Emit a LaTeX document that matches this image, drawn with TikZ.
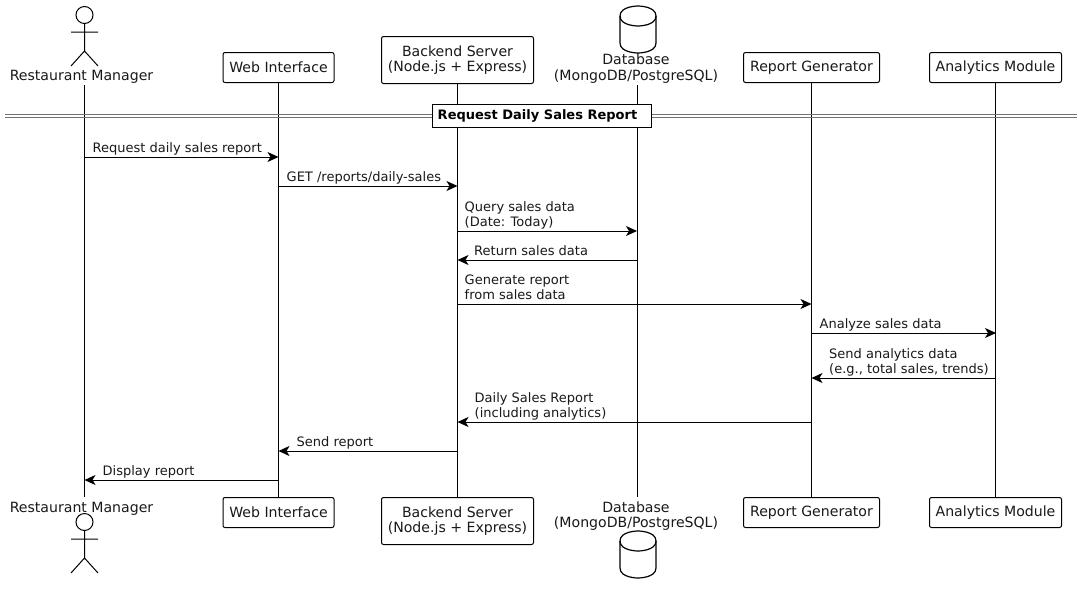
\documentclass[tikz,border=0pt]{standalone}
\usepackage{fontspec}
\setmainfont{DejaVu Sans}
\usetikzlibrary{arrows.meta}
\tikzset{
  every picture/.style={x=1pt,y=-1pt},
  pbox/.style={draw=black,fill=white,rounded corners=2pt,line width=1pt,font=\fontsize{14.1}{15.5}\selectfont,align=center,inner sep=0pt,text=black!90},
  plabel/.style={font=\fontsize{14.1}{15.5}\selectfont,align=center,inner sep=0pt,text=black!90},
  mlabel/.style={font=\fontsize{13}{15}\selectfont,align=left,inner sep=0pt,anchor=south west,text=black!90},
  life/.style={line width=1pt,black},
  msgline/.style={line width=1pt,black,-{Stealth[length=11pt,width=10pt,inset=3pt]}},
  stick/.style={line width=1pt,black},
}
\newcommand{\actorfig}[2]{%
  \draw[stick] (#1,#2) circle (8.5);
  \draw[stick] (#1,#2+8.5) -- (#1,#2+36) (#1-13.5,#2+17) -- (#1+13.5,#2+17)
     (#1-13.5,#2+51) -- (#1,#2+36) -- (#1+13.5,#2+51);
}
\newcommand{\dbfig}[3]{% x, top y, name
  \draw[stick,line width=1.2pt,fill=white] (#1-18,#2+10) .. controls (#1-18,#2) and (#1,#2) .. (#1,#2)
     .. controls (#1,#2) and (#1+18,#2) .. (#1+18,#2+10)
     -- (#1+18,#2+37) .. controls (#1+18,#2+47) and (#1,#2+47) .. (#1,#2+47)
     .. controls (#1,#2+47) and (#1-18,#2+47) .. (#1-18,#2+37) -- cycle;
  \draw[stick,line width=1.2pt] (#1-18,#2+10) .. controls (#1-18,#2+20) and (#1,#2+20) .. (#1,#2+20)
     .. controls (#1,#2+20) and (#1+18,#2+20) .. (#1+18,#2+10);
}
% from, to, y, label, label x
\newcommand{\msg}[5]{%
  \coordinate (f#3) at (#1 |- 0,#3);
  \coordinate (t#3) at (#2 |- 0,#3);
  \draw[msgline] (f#3) -- (t#3);
  \node[mlabel] at ([xshift=#5]#1.center |- 0,#3-1.5) {#4\rule[-3.2pt]{0pt}{3.2pt}};
}
\begin{document}
\begin{tikzpicture}
\useasboundingbox (0,0) rectangle (1083,592);
\fill[white] (0,0) rectangle (1083,592);
% top participants
\coordinate (A) at (84.5,0);
\coordinate (W) at (278.5,0);
\coordinate (B) at (457.5,0);
\coordinate (D) at (637,0);
\coordinate (R) at (811.5,0);
\coordinate (N) at (996,0);
\node[plabel] (at) at (81.5,76.5) {Restaurant Manager};
\node[plabel] (dt) at (636,68.5) {Database\\(MongoDB/PostgreSQL)};
\node[pbox,minimum width=111pt,minimum height=30pt] (wt) at (278.5,67.5) {Web Interface};
\node[pbox,minimum width=152pt,minimum height=47pt] (bt) at (457.5,60) {Backend Server\\(Node.js + Express)};
\node[pbox,minimum width=136pt,minimum height=30pt] (rt) at (811.5,67.5) {Report Generator};
\node[pbox,minimum width=132pt,minimum height=30pt] (nt) at (995.5,67.5) {Analytics Module};
% bottom participants
\node[plabel] (ab) at (81.5,508.5) {Restaurant Manager};
\node[plabel] (db) at (636,516) {Database\\(MongoDB/PostgreSQL)};
\node[pbox,minimum width=111pt,minimum height=30pt] (wb) at (278.5,512.5) {Web Interface};
\node[pbox,minimum width=152pt,minimum height=47pt] (bb) at (457.5,521) {Backend Server\\(Node.js + Express)};
\node[pbox,minimum width=136pt,minimum height=30pt] (rb) at (811.5,512.5) {Report Generator};
\node[pbox,minimum width=132pt,minimum height=30pt] (nb) at (995.5,512.5) {Analytics Module};
% lifelines
\draw[life] (84.5,85) coordinate (al) -- (84.5,497) coordinate (alb);
\draw[life] (wt.south) -- (wb.north);
\draw[life] (bt.south) -- (bb.north);
\draw[life] (637,85) coordinate (dl) -- (637,497) coordinate (dlb);
\draw[life] (rt.south) -- (rb.north);
\draw[life] (nt.south) -- (nb.north);
\actorfig{84.5}{15}
\actorfig{84.5}{522}
\dbfig{638}{6}{dbt}
\dbfig{638}{531}{dbb}
% divider
\draw[black!55,line width=1pt] (5,114.5) -- (1077,114.5) (5,117.5) -- (1077,117.5);
\node[draw=black,fill=white,line width=1pt,minimum width=219pt,minimum height=23pt,inner sep=0pt,font=\fontsize{13}{15}\selectfont\bfseries] (div) at (541.5,116) {Request Daily Sales Report\hspace{8pt}\mbox{}};
% messages
\msg{A}{W}{157}{Request daily sales report}{8pt}
\msg{W}{B}{186}{GET /reports/daily-sales}{8pt}
\msg{B}{D}{231}{Query sales data\\(Date: Today)}{7pt}
\msg{D}{B}{260}{Return sales data}{-163pt}
\msg{B}{R}{304}{Generate report\\from sales data}{7pt}
\msg{R}{N}{333}{Analyze sales data}{8pt}
\msg{N}{R}{378}{Send analytics data\\(e.g., total sales, trends)}{-167pt}
\msg{R}{B}{422}{Daily Sales Report\\(including analytics)}{-337pt}
\msg{B}{W}{451}{Send report}{-161pt}
\msg{W}{A}{480}{Display report}{-176pt}
\end{tikzpicture}
\end{document}
